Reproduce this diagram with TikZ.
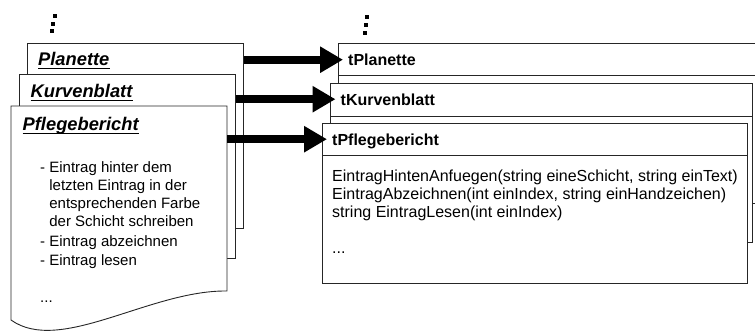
\documentclass[tikz,border=0pt]{standalone}
\usepackage{fontspec}
\setmainfont{Liberation Sans}
\usetikzlibrary{arrows.meta}

\tikzset{
  docbox/.style={draw=black!85, line width=.9pt, fill=white, inner sep=0pt, anchor=north west},
  doctitle/.style={font=\fontsize{18.3}{20}\selectfont\bfseries\itshape, inner sep=0pt, anchor=base west},
  classname/.style={font=\fontsize{16}{18}\selectfont\bfseries, inner xsep=5pt, inner ysep=0pt, text depth=0pt, anchor=base west},
  bigarrow/.style={line width=8pt, -{Triangle[length=23pt,width=25pt]}},
}
\newcommand{\titleline}[1]{\draw[line width=1.6pt] ([yshift=-3.3pt]#1.base west) -- ([yshift=-3.3pt]#1.base east);}

\begin{document}
\begin{tikzpicture}[x=1pt, y=-1pt]
\useasboundingbox (0,0) rectangle (755,332);
\clip (0,0) rectangle (755,332);

% the paper forms
\node[docbox, minimum width=216pt, minimum height=185pt] (planette) at (27,43) {};
\node[doctitle] (tplanette) at (38,65) {Planette};
\titleline{tplanette}
\node[docbox, minimum width=216.5pt, minimum height=184pt] (kurven) at (18.5,74) {};
\node[doctitle] (tkurven) at (30.5,97) {Kurvenblatt};
\titleline{tkurven}
\draw[draw=black!85, line width=.9pt, fill=white] (11,106) -- (227,106) coordinate (pflegeNE)
    -- (227,291) .. controls (150,290) and (60,355) .. (11,320) -- cycle;
\node[doctitle] (tpflege) at (22.5,130) {Pflegebericht};
\titleline{tpflege}
\node[anchor=base west, inner sep=0pt, font=\fontsize{15}{18.3}\selectfont] (pflegetext) at (40,172)
  {\begin{tabular}[t]{@{}l@{}}
   - Eintrag hinter dem\\
   \phantom{- }letzten Eintrag in der\\
   \phantom{- }entsprechenden Farbe\\
   \phantom{- }der Schicht schreiben\\[1.2pt]
   - Eintrag abzeichnen\\[1.2pt]
   - Eintrag lesen\\
   \\
   ...
   \end{tabular}};

% the classes
\node[docbox, minimum width=450pt, minimum height=160pt] (cplanette) at (338,43) {};
\draw[black!85, line width=.9pt] (cplanette.west |- 0,75) -- (cplanette.east |- 0,75);
\node[classname] (nplanette) at (343,65.5) {tPlanette};
\node[docbox, minimum width=422pt, minimum height=159pt] (ckurven) at (330,83) {};
\draw[black!85, line width=.9pt] (ckurven.west |- 0,116) -- (ckurven.east |- 0,116);
\node[classname] (nkurven) at (335.5,105) {tKurvenblatt};
\node[docbox, minimum width=424.5pt, minimum height=160pt] (cpflege) at (322,123) {};
\draw[black!85, line width=.9pt] (cpflege.west |- 0,155) -- (cpflege.east |- 0,155);
\node[classname] (npflege) at (327,145) {tPflegebericht};
\node[anchor=base west, inner sep=0pt, font=\fontsize{16}{18.2}\selectfont] (methods) at (332,181)
  {\begin{tabular}[t]{@{}l@{}}
   EintragHintenAnfuegen(string eineSchicht, string einText)\\
   EintragAbzeichnen(int einIndex, string einHandzeichen)\\
   string EintragLesen(int einIndex)\\
   \\
   ...
   \end{tabular}};

% mapping arrows
\draw[bigarrow] (planette.east |- nplanette.west) -- (nplanette.west);
\draw[bigarrow] (kurven.east |- nkurven.west) -- (nkurven.west);
\draw[bigarrow] (pflegeNE |- npflege.west) -- (npflege.west);

% more forms / classes
\foreach \x/\y in {55/16, 53.3/23.7, 52/30.7, 366.7/17.3, 366/25, 364.7/32.7}
  \fill (\x-1.9,\y-1.9) rectangle +(3.8,3.8);
\end{tikzpicture}
\end{document}
